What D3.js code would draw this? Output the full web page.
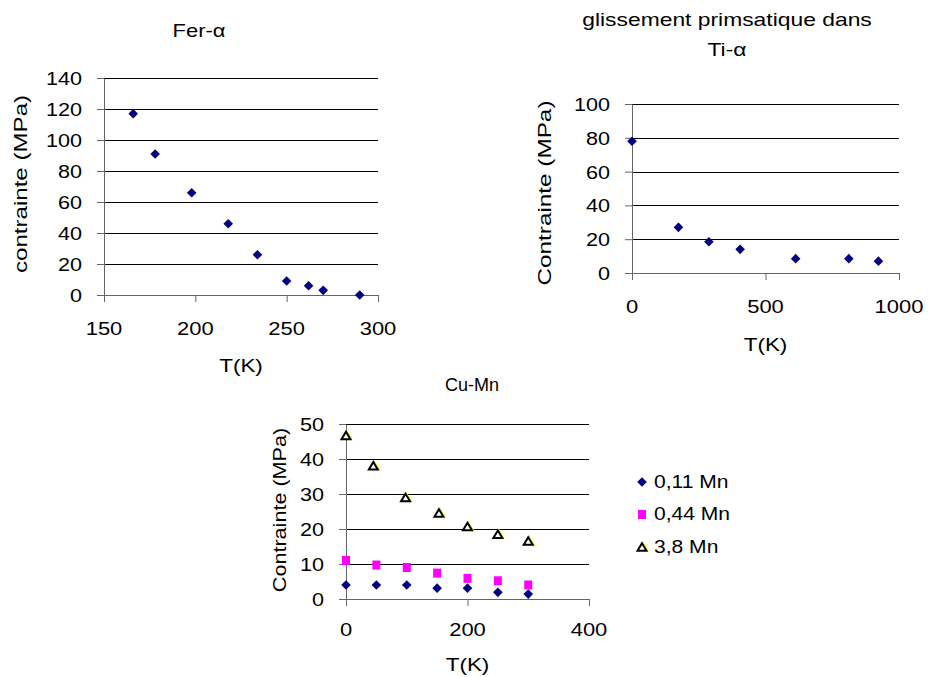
<!DOCTYPE html>
<html><head><meta charset="utf-8">
<script src="https://cdn.jsdelivr.net/npm/d3@7"></script>
<style>
body{margin:0;background:#fff}
text{font-family:"Liberation Sans",Arial,sans-serif;fill:#000}
</style>
</head><body>
<svg id="c" width="928" height="677"></svg>
<script>
// ---------- data ----------
const ferT = [166, 178, 198, 218, 234, 250, 262, 270, 290];
const ferSigma = [117, 91, 66, 46, 26, 9, 6, 3, 0];
const ferXTicks = [150, 200, 250, 300];
const ferYTicks = [0, 20, 40, 60, 80, 100, 120, 140];

const tiT = [0, 174, 288, 405, 613, 812, 923];
const tiSigma = [78, 27, 18.5, 14, 8.5, 8.5, 7];
const tiXTicks = [0, 500, 1000];
const tiYTicks = [0, 20, 40, 60, 80, 100];

const cuT = [0, 50, 100, 150, 200, 250, 300];
const cu011 = [4, 4, 4, 3.1, 3.1, 1.9, 1.4];
const cu044 = [11, 9.7, 9, 7.4, 5.9, 5.2, 4];
const cu38T = [0, 45, 98, 153, 200, 250, 300];
const cu38 = [46.7, 38.1, 29, 24.6, 20.7, 18.5, 16.6];
const cuXTicks = [0, 200, 400];
const cuYTicks = [0, 10, 20, 30, 40, 50];
const cuSeriesNames = ["0,11 Mn", "0,44 Mn", "3,8 Mn"];

// ---------- drawing ----------
const svg = d3.select("#c");

function label(g, txt, x, y, o) {
  o = o || {};
  g.append("text")
    .attr("transform", `translate(${x},${y})${o.rot ? ` rotate(${o.rot})` : ""} scale(${o.sx || 1},1)`)
    .attr("text-anchor", o.anchor || "middle")
    .style("font-size", (o.size || 18) + "px")
    .text(txt);
}

function diamond(r) { return `M0,${-r}L${r},0L0,${r}L${-r},0Z`; }
function triangle(w, h) { return `M0,${-h/2}L${w/2},${h/2}L${-w/2},${h/2}Z`; }

function drawMarker(g, type, cx, cy) {
  if (type === "diamond") {
    g.append("path").attr("d", diamond(4.8)).attr("transform", `translate(${cx},${cy})`).attr("fill", "#000080");
  } else if (type === "square") {
    g.append("rect").attr("x", cx - 4).attr("y", cy - 4.5).attr("width", 8).attr("height", 9).attr("fill", "#ff00ff");
  } else if (type === "triangle") {
    g.append("path").attr("d", triangle(9, 7.5)).attr("transform", `translate(${cx + 1},${cy - 0.5})`)
      .attr("fill", "none").attr("stroke", "#ffff00").attr("stroke-width", 1.5);
    g.append("path").attr("d", triangle(9, 7.5)).attr("transform", `translate(${cx},${cy})`)
      .attr("fill", "#fff").attr("stroke", "#000").attr("stroke-width", 2).attr("stroke-linejoin", "miter");
  }
}

function panel(cfg) {
  const g = svg.append("g");
  const x = d3.scaleLinear().domain(cfg.xDom).range([cfg.left, cfg.right]);
  const y = d3.scaleLinear().domain(cfg.yDom).range([cfg.bottom, cfg.top]);

  // gridlines
  g.append("g").selectAll("line").data(cfg.yTicks.filter(v => v !== cfg.yDom[0])).join("line")
    .attr("x1", cfg.left).attr("x2", cfg.right)
    .attr("y1", d => Math.round(y(d)) + 0.5).attr("y2", d => Math.round(y(d)) + 0.5)
    .attr("stroke", "#000").attr("stroke-width", 1);

  // axes
  const ya = g.append("g").attr("transform", `translate(${cfg.left},0)`)
    .call(d3.axisLeft(y).tickValues(cfg.yTicks).tickSize(7).tickSizeOuter(0).tickFormat(""));
  const xa = g.append("g").attr("transform", `translate(0,${cfg.bottom})`)
    .call(d3.axisBottom(x).tickValues(cfg.xTicks).tickSize(7).tickSizeOuter(0).tickFormat(""));
  [ya, xa].forEach(a => { a.selectAll("path,line").attr("stroke", "#666"); });
  xa.select(".domain").attr("d", `M${cfg.left - 7},0.5H${cfg.right + 0.5}`);

  // tick labels
  cfg.yTicks.forEach(v => label(g, d3.format("d")(v), cfg.left - 22, Math.round(y(v)) + 6.5, { anchor: "end", sx: 1.2 }));
  cfg.xTicks.forEach(v => label(g, d3.format("d")(v), x(v), cfg.bottom + cfg.xTickDy, { sx: 1.22 }));

  // axis titles
  label(g, "T(K)", (cfg.left + cfg.right) / 2, cfg.bottom + cfg.xTitleDy, { sx: 1.25 });
  label(g, cfg.yTitle, cfg.yTitleX, cfg.yTitleY, { rot: -90, sx: cfg.yTitleSx });

  // titles
  cfg.title.forEach((t, i) => label(g, t, cfg.titleX, cfg.titleY + i * 30, { sx: cfg.titleSx }));

  // series
  cfg.series.forEach(s => {
    s.xs.forEach((xv, i) => drawMarker(g, s.type, x(xv), y(s.ys[i])));
  });
  return g;
}

panel({
  left: 104, right: 378, top: 78, bottom: 295,
  xDom: [150, 300], yDom: [0, 140], xTicks: ferXTicks, yTicks: ferYTicks,
  xTickDy: 40, xTitleDy: 77, yTitle: "contrainte (MPa)", yTitleX: 27, yTitleY: 184, yTitleSx: 1.34,
  title: ["Fer-\u03b1"], titleX: 199, titleY: 37, titleSx: 1.22,
  series: [{ type: "diamond", xs: ferT, ys: ferSigma }]
});

panel({
  left: 632, right: 899, top: 104, bottom: 273,
  xDom: [0, 1000], yDom: [0, 100], xTicks: tiXTicks, yTicks: tiYTicks,
  xTickDy: 40, xTitleDy: 78, yTitle: "Contrainte (MPa)", yTitleX: 551, yTitleY: 193, yTitleSx: 1.35,
  title: ["glissement primsatique dans", "Ti-\u03b1"], titleX: 727, titleY: 26, titleSx: 1.27,
  series: [{ type: "diamond", xs: tiT, ys: tiSigma }]
});

const cuSeries = [
  { type: "diamond", xs: cuT, ys: cu011 },
  { type: "square", xs: cuT, ys: cu044 },
  { type: "triangle", xs: cu38T, ys: cu38 }
];
panel({
  left: 346, right: 589, top: 424, bottom: 599,
  xDom: [0, 400], yDom: [0, 50], xTicks: cuXTicks, yTicks: cuYTicks,
  xTickDy: 37, xTitleDy: 72, yTitle: "Contrainte (MPa)", yTitleX: 286, yTitleY: 510, yTitleSx: 1.2,
  title: ["Cu-Mn"], titleX: 472, titleY: 391, titleSx: 1.0,
  series: cuSeries
});

// legend
const lg = svg.append("g");
cuSeriesNames.forEach((name, i) => {
  const yy = 482 + i * 32.5;
  drawMarker(lg, cuSeries[i].type, 642, yy);
  label(lg, name, 654, yy + 5.5, { anchor: "start", sx: 1.17 });
});
</script>
</body></html>
